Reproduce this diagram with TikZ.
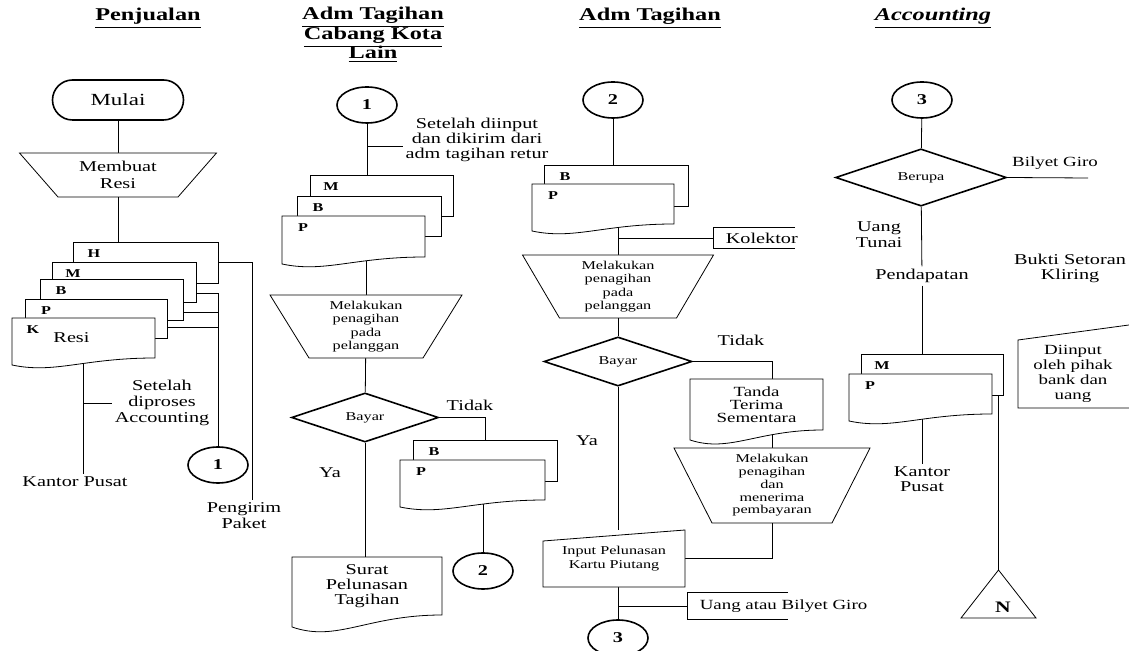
\documentclass[tikz,border=0pt]{standalone}
\usepackage{fontspec}
\setmainfont{Liberation Serif}[FakeStretch=1.35]
\usetikzlibrary{shapes.geometric,calc,backgrounds,positioning}

\newcommand{\setfs}[2]{\fontsize{#1}{#2}\selectfont}
\newcommand{\tightlines}{\lineskiplimit=-6pt\relax}
% outlines drawn from the anchors of an invisible box node
\newcommand{\backsheet}[1]{\draw[fill=white] (#1.south west) rectangle (#1.north east);}
\newcommand{\docu}[2][3.5pt]{\draw[fill=white] (#2.south west) -- (#2.north west) -- (#2.north east) -- (#2.south east)
  .. controls ($(#2.south east)!0.5!(#2.south west)$) and ($(#2.south east)!0.7!(#2.south west)+(0pt,-2.3*#1)$)
  .. ($(#2.south west)+(0pt,-#1)$) -- cycle;}
\newcommand{\manop}[2]{\draw[fill=white] (#1.north west) -- (#1.north east) -- ([xshift=-#2]#1.south east) -- ([xshift=#2]#1.south west) -- cycle;}
\newcommand{\keyin}[2]{\draw[fill=white] (#1.south west) -- ([yshift=-#2]#1.north west) -- (#1.north east) -- (#1.south east) -- cycle;}
\newcommand{\noteline}[2]{\draw ([xshift=#2]#1.north west) -- (#1.north west) -- (#1.south west) -- ([xshift=#2]#1.south west);}

\begin{document}
\begin{tikzpicture}[x=0.5pt, y=-0.5pt, line width=0.8pt,
    box/.style 2 args={minimum width=#1*0.5pt, minimum height=#2*0.5pt, inner sep=0pt, outer sep=0pt, align=center},
    lbl/.style={font=\setfs{7.5}{8}, align=center, inner sep=1pt},
    fine/.style={font=\setfs{6}{6.7}, align=center},
    lane/.style={font=\setfs{9}{9.6}\bfseries\tightlines, align=center},
    term/.style={draw, fill=white, rounded corners=10pt, minimum width=65.5pt, minimum height=20pt, font=\setfs{8.5}{9}},
    conn/.style={ellipse, draw, fill=white, minimum width=30pt, minimum height=18pt, inner sep=0pt, font=\setfs{7.5}{8}\bfseries},
    ask/.style 2 args={diamond, draw, fill=white, minimum width=#1*0.5pt, minimum height=#2*0.5pt, inner sep=0pt, font=\setfs{6}{6}},
    tag/.style={anchor=center, xshift=10.5pt, yshift=-6pt, inner sep=0pt, font=\setfs{6}{6}\bfseries},
    tagged/.style={label={[tag]north west:#1}},
    side/.style={lbl, anchor=west, inner xsep=6pt},
  ]
  \useasboundingbox (0,0) rectangle (1129,651);

  % Penjualan
  \node[lane] (hJual) at (148,18) {\underline{Penjualan}};
  \node[term] (mulai) at (118,100) {Mulai};
  \node[box={197}{44}, font=\setfs{7.5}{8.3}] (buat) at (118,175) {Membuat\\Resi};
  \node[box={145}{41}, tagged=H] (resiH) at (145.5,262.5) {};
  \node[box={144}{40}, tagged=M] (resiM) at (124,282) {};
  \node[box={143}{41}, tagged=B] (resiB) at (111.5,299.5) {};
  \node[box={142}{39}, tagged=P] (resiP) at (96,318.5) {};
  \node[box={143}{40}, tagged=K, font=\setfs{7.5}{8}] (resiK) at (83.5,338) {\hspace*{-12pt}Resi};
  \node[lbl] (note1) at (162,403) {Setelah\\diproses\\Accounting};
  \node[lbl] (kp1) at (75,482) {Kantor Pusat};
  \node[conn] (con1a) at (218,465) {1};
  \node[lbl] (kirim) at (244,516) {Pengirim\\Paket};

  % Adm Tagihan Cabang Kota Lain
  \node[lane] (hCab) at (373,35) {\underline{Adm Tagihan}\\\underline{Cabang Kota}\\\underline{Lain}};
  \node[conn] (con1b) at (367,105) {1};
  \node[lbl, font=\setfs{7.5}{7.5}] (note2) at (477,140) {Setelah diinput\\dan dikirim dari\\adm tagihan retur};
  \node[box={143}{41}, tagged=M] (cabM) at (381.5,195.5) {};
  \node[box={144}{40}, tagged=B] (cabB) at (369,216) {};
  \node[box={143}{41}, tagged=P] (cabP) at (353.5,236.5) {};
  \node[box={192}{63}, fine] (tagih1) at (366,326.5) {Melakukan\\penagihan\\pada\\pelanggan};
  \node[ask={147}{45}] (bayar1) at (365,417.5) {Bayar};
  \node[lbl] (tidak1) at (470,405) {Tidak};
  \node[lbl] (ya1) at (330,473) {Ya};
  \node[box={144}{41}, tagged=B] (retB) at (485,460.5) {};
  \node[box={145}{40}, tagged=P] (retP) at (472.5,480) {};
  \node[conn] (con2a) at (483,571) {2};
  \node[box={150}{58}, font=\setfs{7.5}{7.6}] (surat) at (367,586) {Surat\\Pelunasan\\Tagihan};

  % Adm Tagihan
  \node[lane] (hAdm) at (650,18) {\underline{Adm Tagihan}};
  \node[conn] (con2b) at (613,100) {2};
  \node[box={144}{41}, tagged=B] (admB) at (616,185.5) {};
  \node[box={142}{40}, tagged=P] (admP) at (603,204) {};
  \node[side, minimum height=10pt] (kolektor) at (713,238) {Kolektor};
  \node[box={191}{63}, fine] (tagih2) at (618,286.5) {Melakukan\\penagihan\\pada\\pelanggan};
  \node[ask={148}{47}] (bayar2) at (618,361.5) {Bayar};
  \node[lbl] (tidak2) at (741,340) {Tidak};
  \node[lbl] (ya2) at (587,441) {Ya};
  \node[box={133}{51}, font=\setfs{7}{6.5}] (tanda) at (756.5,404.5) {Tanda\\Terima\\Sementara};
  \node[box={196}{75}, font=\setfs{6}{6.4}] (tagih3) at (772,485.5) {Melakukan\\penagihan\\dan\\menerima\\pembayaran};
  \node[box={142}{57}, font=\setfs{6}{7}] (input) at (614,558.5) {Input Pelunasan\\Kartu Piutang};
  \node[conn] (con3a) at (618,638) {3};
  \node[side, font=\setfs{7}{8}, minimum height=13pt] (uang) at (687,606) {Uang atau Bilyet Giro};

  % Accounting
  \node[lane] (hAcc) at (933,18) {\itshape\underline{Accounting}};
  \node[conn] (con3b) at (922,100) {3};
  \node[ask={171}{55}] (berupa) at (921,177.5) {Berupa};
  \coordinate (giro) at (1088,178);
  \node[lbl, font=\setfs{7}{8}] (giroT) at (1055,163) {Bilyet Giro};
  \node[lbl] (tunai) at (879,235) {Uang\\Tunai};
  \node[lbl] (pend) at (922,276) {Pendapatan};
  \node[lbl, font=\setfs{7.5}{7.5}] (bukti) at (1070,268) {Bukti Setoran\\Kliring};
  \node[box={142}{41}, tagged=M] (accM) at (932,374.5) {};
  \node[box={143}{40}, tagged=P] (accP) at (920.5,394) {};
  \node[lbl, font=\setfs{7.5}{7.5}] (kp2) at (922,479) {Kantor\\Pusat};
  \node[box={122}{84.5}] (bank) at (1079,365.75) {};
  \node[lbl, font=\setfs{7}{7.5}] (bankT) at (1073,374) {Diinput\\oleh pihak\\bank dan\\uang};
  \node[box={75}{48}] (arsip) at (998.5,594) {};
  \node[font=\setfs{8}{8}\bfseries] (arsipN) at (1003,607) {N};

  \begin{scope}[on background layer]
    % connectors
    \draw (mulai) -- (buat);
    \draw (buat) -- (buat |- resiH.north);
    \draw (resiH.east) -| ([xshift=4pt]kirim.north);
    \draw ([yshift=4.5pt]resiM.south east) -| (con1a);
    \draw ([yshift=4pt]resiB.south east) -| (con1a);
    \draw ([yshift=5.5pt]resiP.south east) -| (con1a);
    \draw (resiK.south) -- (resiK.south |- kp1.north);
    \draw (note1.west) -- (note1.west -| resiK);

    \draw (con1b) -- (con1b |- cabM.north);
    \draw ($(note2.west)+(0pt,-3pt)$) -- ($(note2.west -| con1b)+(0pt,-3pt)$);
    \draw (tagih1) -- (tagih1 |- cabP.south);
    \draw (tagih1) -- (bayar1);
    \draw (bayar1) -- (bayar1 |- surat.north);
    \draw (bayar1.east) -| (retB.north);
    \draw (con2a) -- (con2a |- retP.south);

    \draw (con2b) -- (con2b |- admB.north);
    \draw (tagih2) -- (tagih2 |- admP.south);
    \draw (kolektor.west) -- (kolektor.west -| tagih2);
    \draw (tagih2) -- (bayar2);
    \draw (bayar2.east) -| (tagih3 |- tanda.north);
    \draw (tagih3) -- (tagih3 |- tanda.south);
    \draw (bayar2) -- (bayar2 |- input.north);
    \draw (tagih3) |- (input);
    \draw (con3a) -- (con3a |- input.south);
    \draw (uang.west) -- (uang.west -| con3a);

    \draw (con3b) -- (berupa);
    \draw (berupa.east) -- (giro);
    \draw (berupa) -- (pend);
    \draw (pend) -- (pend |- accM.north);
    \draw (kp2) -- (kp2 |- accP.south);
    \draw (arsip.north) -- (arsip.north |- accM.south);

    % shapes
    \manop{buat}{19.25pt}
    \backsheet{resiH} \backsheet{resiM} \backsheet{resiB} \backsheet{resiP} \docu{resiK}
    \backsheet{cabM} \backsheet{cabB} \docu{cabP}
    \manop{tagih1}{19.5pt}
    \backsheet{retB} \docu{retP}
    \docu[6pt]{surat}
    \backsheet{admB} \docu{admP}
    \noteline{kolektor}{41pt}
    \manop{tagih2}{18.5pt}
    \docu[5pt]{tanda}
    \manop{tagih3}{19pt}
    \keyin{input}{5.5pt}
    \noteline{uang}{50.5pt}
    \backsheet{accM} \docu{accP}
    \keyin{bank}{8.25pt}
    \draw[fill=white] (arsip.south west) -- (arsip.north) -- (arsip.south east) -- cycle;
  \end{scope}
\end{tikzpicture}
\end{document}
